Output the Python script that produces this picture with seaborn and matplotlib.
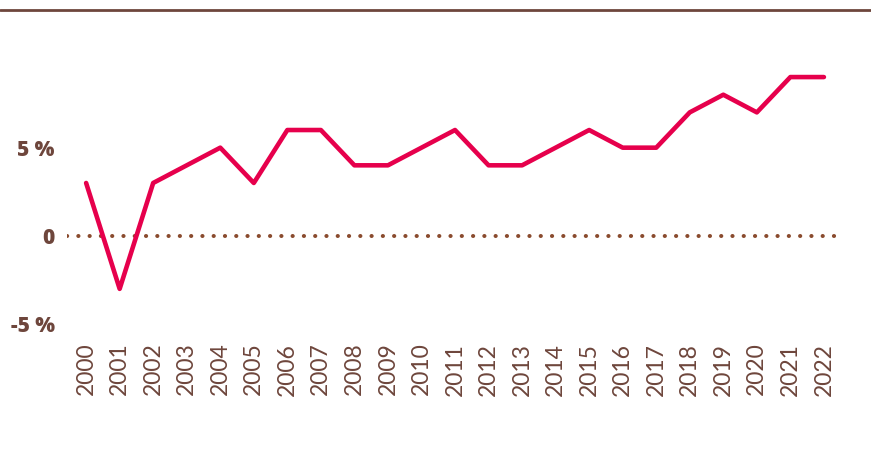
import seaborn as sns
import matplotlib.pyplot as plt
import pandas as pd
from matplotlib.lines import Line2D

# values (growth, percent)
years = list(range(2000, 2023))
growth = [3, -3, 3, 4, 5, 3, 6, 6, 4, 4, 5, 6, 4, 4, 5, 6, 5, 5, 7, 8, 7, 9, 9]
ytick_vals = [-5, 0, 5]
ytick_labels = ["-5 %", "0", "5 %"]

brown = "#6e463c"
dot_brown = "#8a4b2e"
pink = "#e6004c"

df = pd.DataFrame({"year": years, "growth": growth})

sns.set_style("white")
plt.rcParams["font.family"] = ["Lato", "DejaVu Sans"]

fig = plt.figure(figsize=(8.71, 4.68), dpi=100)
ax = fig.add_axes([67 / 871, 1 - 333 / 468, (838 - 67) / 871, (333 - 10) / 468])

ax.axhline(0, color=dot_brown, lw=2.9, ls=(0, (0.05, 2.75)), dash_capstyle="round", zorder=1)
sns.lineplot(data=df, x="year", y="growth", ax=ax, color=pink, lw=3.3, zorder=3)

ax.set_xlim(1999.43, 2022.42)
ax.set_ylim(-5.5, 12.8)
ax.set_xticks(years)
ax.set_xticklabels([str(y) for y in years], rotation=90, fontsize=16.5,
                   color=brown, fontweight="normal")
ax.set_yticks(ytick_vals)
ax.set_yticklabels(ytick_labels, fontsize=15, color=brown, fontweight="black",
                   family=["Open Sans", "DejaVu Sans"])
ax.tick_params(axis="both", length=0)
ax.tick_params(axis="x", pad=7)
ax.tick_params(axis="y", pad=9)
ax.set_xlabel("")
ax.set_ylabel("")
for s in ax.spines.values():
    s.set_visible(False)

# brown rule across the top of the figure
fig.add_artist(Line2D([0, 1], [1 - 10 / 468, 1 - 10 / 468], transform=fig.transFigure,
                      color=brown, lw=2))

fig.savefig("out.png", dpi=100)
